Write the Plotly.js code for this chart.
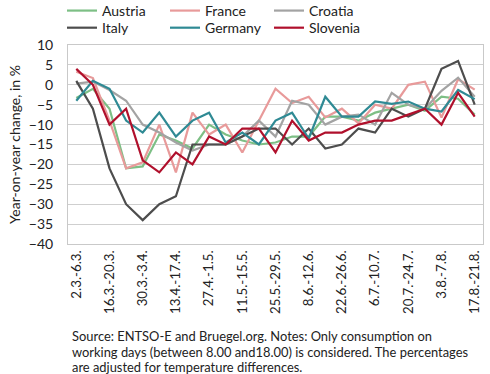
<!DOCTYPE html>
<html>
<head>
<meta charset="utf-8">
<script src="https://cdn.plot.ly/plotly-3.0.1.min.js"></script>
<style>html,body{margin:0;padding:0;background:#fff;}#chart{width:490px;height:374px;}</style>
</head>
<body>
<div id="chart"></div>
<script>
const weeks = ["2.3.-6.3.","9.3.-13.3.","16.3.-20.3.","23.3.-27.3.","30.3.-3.4.","6.4.-10.4.","13.4.-17.4.","20.4.-24.4.","27.4.-1.5.","4.5.-8.5.","11.5.-15.5.","18.5.-22.5.","25.5.-29.5.","1.6.-5.6.","8.6.-12.6.","15.6.-19.6.","22.6.-26.6.","29.6.-3.7.","6.7.-10.7.","13.7.-17.7.","20.7.-24.7.","27.7.-31.7.","3.8.-7.8.","10.8.-14.8.","17.8.-21.8."];
const labelledWeeks = ["2.3.-6.3.","16.3.-20.3.","30.3.-3.4.","13.4.-17.4.","27.4.-1.5.","11.5.-15.5.","25.5.-29.5.","8.6.-12.6.","22.6.-26.6.","6.7.-10.7.","20.7.-24.7.","3.8.-7.8.","17.8.-21.8."];
const austria  = [-3.3,-1,-6,-21,-20.5,-12.5,-14,-16,-10,-12.5,-14,-15,-14.5,-13,-13,-8,-8,-9,-7,-6,-5,-6.5,-3,-3.5,-7.5];
const france   = [3.3,1.7,-9,-21,-19.5,-10,-22,-7,-12.5,-10,-17,-9,-1,-4.6,-3,-8.2,-6,-9.7,-5,-6,0,0.8,-8.2,1.4,-1.2];
const croatia  = [0.3,0.8,-1.3,-4,-10,-12,-14.5,-16.5,-15,-15,-13,-9,-13,-4,-5,-10,-8,-7.5,-10,-2,-5,-6,-1.5,1.8,-3];
const italy    = [1,-6,-21,-30,-34,-30,-28,-15,-15,-15,-13,-11,-11,-15,-11,-16,-15,-11,-12,-6,-8,-6,4,6,-5];
const germany  = [-4,1,-1,-9,-12,-7,-13,-9,-7,-14.5,-12,-15,-9,-7,-13.5,-3,-8,-8,-4.2,-4.8,-4.2,-6,-6.7,-1.3,-3.6];
const slovenia = [4,0,-10,-6,-19,-22,-17,-20,-13,-15,-11,-11,-17,-9,-14,-12,-12,-10,-9,-9,-7.5,-6,-10,-2,-8];
const noteLines = ["Source: ENTSO-E and Bruegel.org. Notes: Only consumption on",
  "working days (between 8.00 and18.00) is considered. The percentages",
  "are adjusted for temperature differences."];

const FONT = "Lato, 'Open Sans', sans-serif";
const series = [
  {name:"Austria", y:austria, color:"#7dbf85"},
  {name:"France", y:france, color:"#e89a9a"},
  {name:"Croatia", y:croatia, color:"#a3a3a3"},
  {name:"Italy", y:italy, color:"#4d4d4d"},
  {name:"Germany", y:germany, color:"#2f8a94"},
  {name:"Slovenia", y:slovenia, color:"#b0102c"}
];
const legendIds = ["legend","legend2","legend3","legend4","legend5","legend6"];
const data = series.map((s,i) => ({
  type:"scatter", mode:"lines", name:s.name, x:weeks, y:s.y,
  line:{color:s.color, width:2.2}, legend:legendIds[i]
}));
// legend placement (paper units): three columns, two rows
const colX = [-0.0145, 0.2337, 0.4843];
const rowY = [1.171, 1.085];
const layout = {
  width:490, height:374,
  margin:{l:68, r:7, t:45, b:130, autoexpand:false},
  paper_bgcolor:"#fff", plot_bgcolor:"#fff",
  font:{family:FONT, size:13, color:"#222"},
  showlegend:true,
  xaxis:{type:"category", categoryorder:"array", categoryarray:weeks, range:[-0.5,24.5],
    tickmode:"array", tickvals:labelledWeeks, ticktext:labelledWeeks, tickangle:-90,
    showgrid:false, zeroline:false, showline:true, mirror:true, linecolor:"#c9c9c9", linewidth:1,
    ticks:"", tickfont:{family:FONT, size:13.3, color:"#222"}},
  yaxis:{range:[-40,10], tickmode:"linear", tick0:-40, dtick:5, showgrid:true, gridcolor:"#cfcfcf", gridwidth:1,
    zeroline:false, showline:true, mirror:true, linecolor:"#c9c9c9", linewidth:1, automargin:true,
    ticks:"", ticklabelstandoff:11, tickfont:{family:FONT, size:14, color:"#222"},
    title:{text:"Year-on-year change, in %", font:{family:FONT, size:14, color:"#222"}, standoff:4}},
  annotations: noteLines.map((t,i) => ({
    xref:"paper", yref:"paper", x:0.005, y:[-0.4623,-0.5427,-0.618][i], xanchor:"left", yanchor:"middle",
    align:"left", showarrow:false, text:t, font:{family:FONT, size:12.9, color:"#222"}
  }))
};
legendIds.forEach((id,i) => {
  layout[id] = {orientation:"h", xanchor:"left", yanchor:"middle",
    x:colX[i%3], y:rowY[Math.floor(i/3)],
    font:{family:FONT, size:14, color:"#222"}, itemwidth:30, bgcolor:"rgba(0,0,0,0)", borderwidth:0};
});
Plotly.newPlot("chart", data, layout, {displayModeBar:false, staticPlot:true});
</script>
</body>
</html>
